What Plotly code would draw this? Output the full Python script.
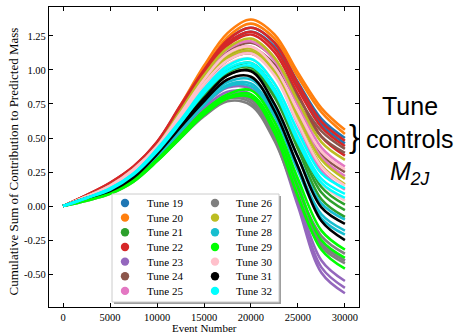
import plotly.graph_objects as go

# ---------------- data ----------------
event_number = [0, 2500, 5000, 7500, 10000, 12500, 15000, 17500, 20000, 22500, 25000, 27500, 30000]

tune_names = ["Tune 19", "Tune 20", "Tune 21", "Tune 22", "Tune 23", "Tune 24", "Tune 25",
              "Tune 26", "Tune 27", "Tune 28", "Tune 29", "Tune 30", "Tune 31", "Tune 32"]
tune_colors = ["#1f77b4", "#ff7f0e", "#2ca02c", "#d62728", "#9467bd", "#8c564b", "#e377c2",
               "#7f7f7f", "#bcbd22", "#17becf", "#00ff00", "#ffc0cb", "#000000", "#00ffff"]

tune19 = [[0, 0.07, 0.15, 0.27, 0.45, 0.72, 0.99, 1.22, 1.31, 1.20, 0.91, 0.64, 0.50],
          [0, 0.07, 0.15, 0.27, 0.44, 0.70, 0.97, 1.19, 1.28, 1.17, 0.88, 0.60, 0.46]]
tune20 = [[0, 0.07, 0.15, 0.28, 0.46, 0.74, 1.03, 1.27, 1.37, 1.26, 0.98, 0.72, 0.56],
          [0, 0.07, 0.15, 0.27, 0.45, 0.72, 1.00, 1.24, 1.34, 1.23, 0.95, 0.69, 0.53]]
tune21 = [[0, 0.06, 0.12, 0.23, 0.40, 0.61, 0.83, 1.00, 1.05, 0.86, 0.50, 0.14, 0.01],
          [0, 0.06, 0.12, 0.22, 0.39, 0.59, 0.80, 0.96, 1.00, 0.80, 0.42, 0.05, -0.08],
          [0, 0.06, 0.12, 0.22, 0.39, 0.60, 0.81, 0.98, 1.02, 0.83, 0.46, 0.10, -0.03]]
tune22 = [[0, 0.08, 0.17, 0.29, 0.47, 0.74, 1.00, 1.22, 1.31, 1.20, 0.90, 0.62, 0.48],
          [0, 0.08, 0.17, 0.29, 0.47, 0.73, 0.99, 1.20, 1.28, 1.16, 0.86, 0.58, 0.44],
          [0, 0.08, 0.16, 0.28, 0.46, 0.72, 0.97, 1.18, 1.26, 1.13, 0.82, 0.51, 0.37]]
tune23 = [[0, 0.05, 0.11, 0.21, 0.37, 0.56, 0.74, 0.87, 0.86, 0.62, 0.16, -0.26, -0.40],
          [0, 0.05, 0.10, 0.20, 0.36, 0.54, 0.72, 0.84, 0.82, 0.55, 0.06, -0.40, -0.55],
          [0, 0.05, 0.10, 0.20, 0.35, 0.53, 0.70, 0.82, 0.80, 0.52, 0.02, -0.45, -0.60],
          [0, 0.05, 0.10, 0.19, 0.35, 0.52, 0.69, 0.81, 0.79, 0.50, 0.00, -0.49, -0.64]]
tune24 = [[0, 0.07, 0.15, 0.26, 0.44, 0.69, 0.94, 1.13, 1.20, 1.08, 0.80, 0.55, 0.42],
          [0, 0.07, 0.14, 0.26, 0.43, 0.67, 0.92, 1.10, 1.16, 1.04, 0.76, 0.51, 0.39],
          [0, 0.07, 0.14, 0.25, 0.42, 0.65, 0.89, 1.07, 1.12, 0.98, 0.67, 0.38, 0.25]]
tune25 = [[0, 0.07, 0.15, 0.27, 0.44, 0.69, 0.95, 1.15, 1.21, 1.07, 0.74, 0.43, 0.29],
          [0, 0.07, 0.14, 0.26, 0.43, 0.67, 0.92, 1.12, 1.17, 1.02, 0.68, 0.36, 0.22],
          [0, 0.07, 0.14, 0.25, 0.42, 0.65, 0.89, 1.08, 1.13, 0.97, 0.60, 0.26, 0.12]]
tune26 = [[0, 0.05, 0.10, 0.19, 0.34, 0.52, 0.69, 0.80, 0.78, 0.54, 0.12, -0.22, -0.35],
          [0, 0.05, 0.10, 0.19, 0.34, 0.51, 0.68, 0.79, 0.76, 0.50, 0.08, -0.28, -0.40],
          [0, 0.04, 0.09, 0.18, 0.33, 0.50, 0.66, 0.77, 0.74, 0.48, 0.05, -0.30, -0.42]]
tune27 = [[0, 0.07, 0.15, 0.27, 0.44, 0.70, 0.96, 1.16, 1.23, 1.09, 0.77, 0.47, 0.34],
          [0, 0.07, 0.14, 0.26, 0.43, 0.67, 0.92, 1.11, 1.16, 1.01, 0.66, 0.34, 0.20],
          [0, 0.07, 0.14, 0.25, 0.42, 0.66, 0.90, 1.09, 1.14, 0.98, 0.62, 0.30, 0.16]]
tune28 = [[0, 0.05, 0.11, 0.21, 0.38, 0.57, 0.77, 0.91, 0.93, 0.73, 0.36, 0.02, -0.10],
          [0, 0.05, 0.11, 0.21, 0.37, 0.56, 0.75, 0.89, 0.90, 0.68, 0.29, -0.06, -0.18],
          [0, 0.05, 0.11, 0.20, 0.36, 0.55, 0.74, 0.88, 0.88, 0.66, 0.26, -0.09, -0.21]]
tune29 = [[0, 0.05, 0.10, 0.19, 0.34, 0.52, 0.70, 0.82, 0.85, 0.62, 0.20, -0.18, -0.32],
          [0, 0.05, 0.10, 0.19, 0.34, 0.51, 0.69, 0.80, 0.82, 0.58, 0.14, -0.25, -0.38],
          [0, 0.04, 0.09, 0.18, 0.33, 0.50, 0.67, 0.79, 0.80, 0.54, 0.07, -0.32, -0.46]]
tune30 = [[0, 0.07, 0.15, 0.27, 0.44, 0.68, 0.93, 1.12, 1.17, 1.02, 0.70, 0.40, 0.27],
          [0, 0.07, 0.14, 0.26, 0.43, 0.66, 0.90, 1.07, 1.12, 0.96, 0.61, 0.29, 0.15],
          [0, 0.06, 0.13, 0.25, 0.42, 0.64, 0.87, 1.04, 1.08, 0.90, 0.52, 0.17, 0.04]]
tune31 = [[0, 0.06, 0.12, 0.22, 0.39, 0.59, 0.79, 0.96, 0.99, 0.75, 0.36, -0.01, -0.13],
          [0, 0.06, 0.11, 0.21, 0.38, 0.58, 0.77, 0.93, 0.95, 0.70, 0.29, -0.11, -0.25]]
tune32 = [[0, 0.06, 0.13, 0.24, 0.42, 0.63, 0.86, 1.03, 1.08, 0.90, 0.55, 0.24, 0.13],
          [0, 0.06, 0.13, 0.24, 0.41, 0.62, 0.84, 1.01, 1.05, 0.86, 0.50, 0.20, 0.09],
          [0, 0.06, 0.12, 0.23, 0.40, 0.61, 0.83, 0.99, 1.03, 0.84, 0.47, 0.17, 0.06]]

x_tick_vals = [0, 5000, 10000, 15000, 20000, 25000, 30000]
x_tick_text = ["0", "5000", "10000", "15000", "20000", "25000", "30000"]
y_tick_vals = [-0.5, -0.25, 0.0, 0.25, 0.5, 0.75, 1.0, 1.25]
y_tick_text = ["-0.50", "-0.25", "0.00", "0.25", "0.50", "0.75", "1.00", "1.25"]

all_tunes = [tune19, tune20, tune21, tune22, tune23, tune24, tune25,
             tune26, tune27, tune28, tune29, tune30, tune31, tune32]

# ---------------- figure ----------------
W, H = 458, 335
ML, MR, MT, MB = 49, 99, 7, 28
PW, PH = W - ML - MR, H - MT - MB

SERIF = "Liberation Serif"
SANS = "Liberation Sans"

fig = go.Figure()
for name, color, curves in zip(tune_names, tune_colors, all_tunes):
    for curve in curves:
        fig.add_trace(go.Scatter(x=event_number, y=curve, mode="lines",
                                 line=dict(color=color, width=2.6, shape="spline", smoothing=1.0),
                                 name=name, showlegend=False, hoverinfo="skip"))

def px2paper_x(px):
    return (px - ML) / PW

def px2paper_y(py):
    return (H - MB - py) / PH

shapes = []
annotations = []

# legend frame with shadow
lx0, lx1, ly0, ly1 = 112, 279, 194, 302
shapes.append(dict(type="rect", xref="paper", yref="paper", layer="above",
                   x0=px2paper_x(lx0 + 2), x1=px2paper_x(lx1 + 2),
                   y0=px2paper_y(ly1 + 2), y1=px2paper_y(ly0 + 2),
                   fillcolor="rgba(80,80,80,0.55)", line=dict(width=0)))
shapes.append(dict(type="rect", xref="paper", yref="paper", layer="above",
                   x0=px2paper_x(lx0), x1=px2paper_x(lx1),
                   y0=px2paper_y(ly1), y1=px2paper_y(ly0),
                   fillcolor="white", line=dict(color="#cccccc", width=1)))

col_marker_x = [125, 215]
col_text_x = [145, 234]
row_y0, row_dy = 203, 14.65
for i, (name, color) in enumerate(zip(tune_names, tune_colors)):
    col, row = divmod(i, 7)
    cy = row_y0 + row * row_dy
    shapes.append(dict(type="circle", xref="paper", yref="paper", layer="above",
                       xsizemode="pixel", ysizemode="pixel",
                       xanchor=px2paper_x(col_marker_x[col]), yanchor=px2paper_y(cy),
                       x0=-4.2, x1=4.2, y0=-4.2, y1=4.2,
                       fillcolor=color, line=dict(width=0)))
    annotations.append(dict(text=name, xref="paper", yref="paper",
                            x=px2paper_x(col_text_x[col]), y=px2paper_y(cy),
                            xanchor="left", yanchor="middle", showarrow=False,
                            font=dict(family=SERIF, size=11, color="black")))

# axis titles
annotations.append(dict(text="Event Number", xref="paper", yref="paper",
                        x=0.5, y=0, yshift=-MB, xanchor="center", yanchor="bottom",
                        borderpad=0, showarrow=False,
                        font=dict(family=SERIF, size=11, color="black")))
annotations.append(dict(text="Cumulative Sum of Contribution to Predicted Mass",
                        xref="paper", yref="paper", textangle=-90,
                        x=px2paper_x(13.5), y=px2paper_y(162), xanchor="center", yanchor="middle",
                        showarrow=False, font=dict(family=SERIF, size=13, color="black")))

# right-hand annotation
annotations.append(dict(text="}", xref="paper", yref="paper",
                        x=px2paper_x(354), y=px2paper_y(136), xanchor="center", yanchor="middle",
                        showarrow=False, font=dict(family=SANS, size=32, color="black")))
for txt, cy in [("Tune", 106), ("controls", 139), ("<i>M</i><sub><i>2J</i></sub>", 173)]:
    annotations.append(dict(text=txt, xref="paper", yref="paper",
                            x=px2paper_x(410), y=px2paper_y(cy), xanchor="center", yanchor="middle",
                            showarrow=False, font=dict(family=SANS, size=25, color="black")))

axis_common = dict(showline=True, linecolor="black", linewidth=1.2, mirror="ticks",
                   ticks="inside", ticklen=4, tickwidth=1, tickcolor="black",
                   showgrid=False, zeroline=False,
                   tickfont=dict(family=SERIF, size=10.5, color="black"))

fig.update_layout(
    width=W, height=H,
    margin=dict(l=ML, r=MR, t=MT, b=MB, pad=0),
    paper_bgcolor="white", plot_bgcolor="white",
    showlegend=False,
    xaxis=dict(range=[-1500, 31500], tickvals=x_tick_vals, ticktext=x_tick_text, **axis_common),
    yaxis=dict(range=[-0.741, 1.462], tickvals=y_tick_vals, ticktext=y_tick_text, **axis_common),
    shapes=shapes, annotations=annotations,
)

fig.write_html("out.html")
